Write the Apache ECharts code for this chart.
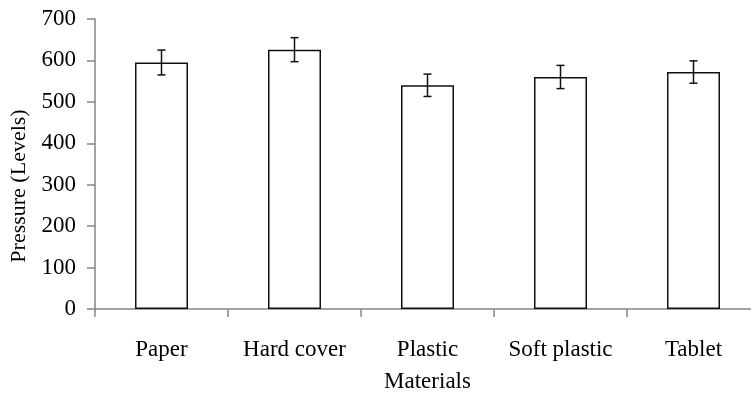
<!DOCTYPE html>
<html>
<head>
<meta charset="utf-8">
<script src="https://cdn.jsdelivr.net/npm/echarts@6/dist/echarts.min.js"></script>
<style>
  html, body { margin: 0; padding: 0; background: #ffffff; }
  #chart { width: 751px; height: 394px; }
</style>
</head>
<body>
<div id="chart"></div>
<script>
const materials = ['Paper', 'Hard cover', 'Plastic', 'Soft plastic', 'Tablet']
const pressure = [595, 626, 540, 560, 572]
const pressureErr = [30, 29, 27, 28, 27]

const chart = echarts.init(document.getElementById('chart'))
const font = 'Liberation Serif, Times New Roman, serif'

const errorData = materials.map((m, i) => [i, pressure[i] - pressureErr[i], pressure[i] + pressureErr[i]])

const option = {
  backgroundColor: '#ffffff',
  animation: false,
  grid: { left: 95, top: 19, width: 665, bottom: 85, outerBoundsMode: 'none' },
  xAxis: {
    type: 'category',
    data: materials,
    name: 'Materials',
    nameLocation: 'middle',
    nameGap: 61,
    nameTextStyle: { color: '#000', fontFamily: font, fontSize: 23 },
    axisLine: { lineStyle: { color: '#858585', width: 1.5 } },
    axisTick: { show: true, interval: 0, length: 8, lineStyle: { color: '#858585', width: 1.5 } },
    axisLabel: { color: '#000', fontFamily: font, fontSize: 23, margin: 29, interval: 0, hideOverlap: false }
  },
  yAxis: {
    type: 'value',
    min: 0,
    max: 700,
    interval: 100,
    name: 'Pressure (Levels)',
    nameLocation: 'middle',
    nameRotate: 90,
    nameGap: 60,
    nameTextStyle: { color: '#000', fontFamily: font, fontSize: 22, padding: [0, 44, 0, 0] },
    axisLine: { show: true, lineStyle: { color: '#858585', width: 1.5 } },
    axisTick: { show: true, length: 8, lineStyle: { color: '#858585', width: 1.5 } },
    axisLabel: { color: '#000', fontFamily: font, fontSize: 23, margin: 19, padding: [3, 0, 0, 0] },
    splitLine: { show: false }
  },
  series: [
    {
      type: 'bar',
      data: pressure,
      barWidth: 53,
      itemStyle: { color: '#ffffff', borderColor: '#111', borderWidth: 1.5 }
    },
    {
      type: 'custom',
      data: errorData,
      z: 5,
      renderItem (params, api) {
        const lo = api.coord([api.value(0), api.value(1)])
        const hi = api.coord([api.value(0), api.value(2)])
        const half = 4
        const style = { stroke: '#111', lineWidth: 1.5 }
        return {
          type: 'group',
          children: [
            { type: 'line', shape: { x1: hi[0], y1: hi[1], x2: lo[0], y2: lo[1] }, style },
            { type: 'line', shape: { x1: hi[0] - half, y1: hi[1], x2: hi[0] + half, y2: hi[1] }, style },
            { type: 'line', shape: { x1: lo[0] - half, y1: lo[1], x2: lo[0] + half, y2: lo[1] }, style }
          ]
        }
      }
    }
  ]
}

chart.setOption(option)
</script>
</body>
</html>
